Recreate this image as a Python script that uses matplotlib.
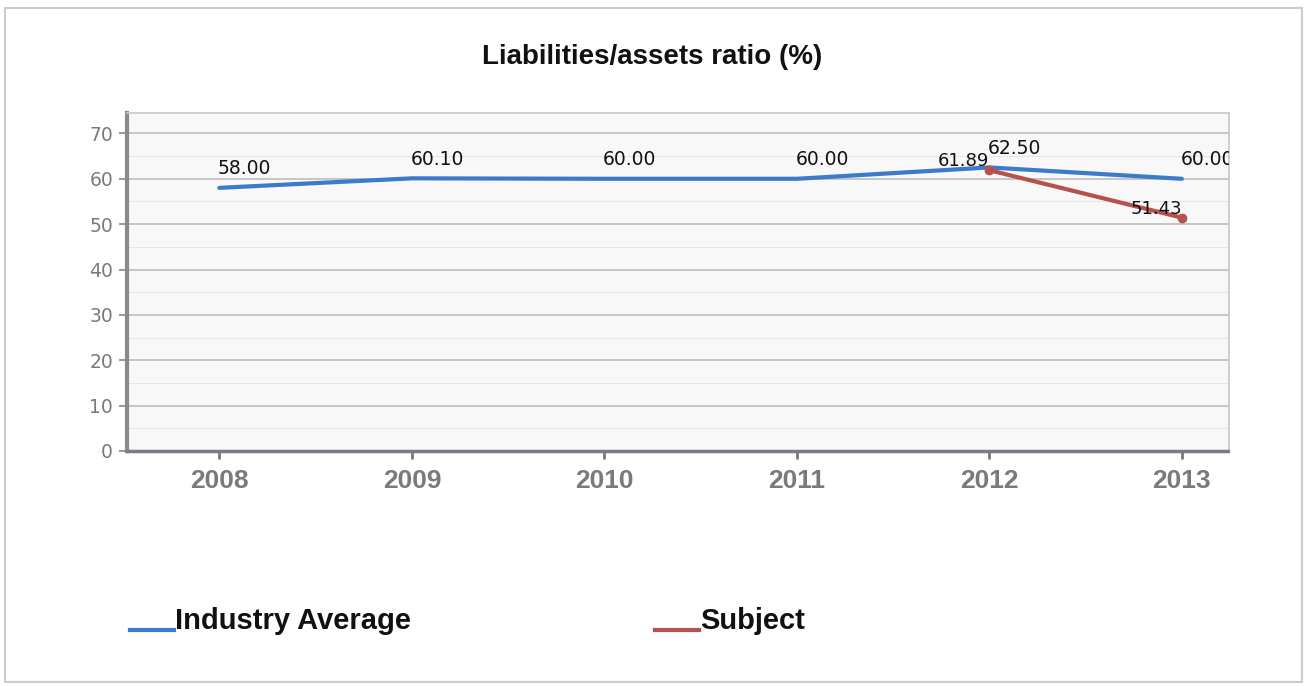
import numpy as np
import matplotlib.pyplot as plt
from matplotlib.lines import Line2D
from matplotlib.patches import Rectangle

# Series values
years = ['2008', '2009', '2010', '2011', '2012', '2013']
industry_avg = [58.00, 60.10, 60.00, 60.00, 62.50, 60.00]
subject_years = ['2012', '2013']
subject = [61.89, 51.43]

blue = '#3b7bcc'
red = '#b5514f'
gray_txt = '#7a7a7a'

plt.rcParams['font.family'] = ['Liberation Sans', 'DejaVu Sans']

fig = plt.figure(figsize=(13.04, 6.86), dpi=100)
ax = fig.add_axes([127 / 1304, 1 - 451 / 686, (1229 - 127) / 1304, (451 - 113) / 686])
ax.set_facecolor('#f8f8f8')

x = np.arange(len(years))
xs = np.array([years.index(y) for y in subject_years])

ax.plot(x, industry_avg, color=blue, lw=3, solid_capstyle='round', zorder=3)
ax.plot(xs, subject, color=red, lw=3, marker='o', ms=6, zorder=4)

# value labels
for xi, v in zip(x, industry_avg):
    ax.annotate(f'{v:.2f}', (xi, v), xytext=(-1, 7), textcoords='offset points',
                ha='left', va='bottom', fontsize=13.5, family='DejaVu Sans',
                color='#111111', clip_on=True, zorder=5)
for xi, v in zip(xs, subject):
    ax.annotate(f'{v:.2f}', (xi, v), xytext=(0, 0), textcoords='offset points',
                ha='right', va='bottom', fontsize=13, family='DejaVu Sans',
                color='#111111', clip_on=True, zorder=5)

ax.set_xlim(-0.48, 5.245)
ax.set_ylim(0, 74.5)
ax.set_xticks(x)
ax.set_xticklabels(years, fontsize=19, fontweight='bold', color=gray_txt)
ax.set_yticks(range(0, 71, 10))
ax.set_yticklabels([str(t) for t in range(0, 71, 10)], fontsize=13.5,
                   family='DejaVu Sans', color=gray_txt)
ax.set_yticks(range(5, 71, 10), minor=True)

ax.grid(axis='y', which='major', color='#bdbdbd', lw=1.2)
ax.grid(axis='y', which='minor', color='#e6e6e6', lw=0.8)
ax.set_axisbelow(True)

ax.tick_params(axis='y', which='major', length=6, width=1.2, color='#888888', pad=4)
ax.tick_params(axis='y', which='minor', length=0)
ax.tick_params(axis='x', length=6, width=2, color='#777777', pad=7)

ax.spines['left'].set_color('#8a8a8a')
ax.spines['left'].set_linewidth(3)
ax.spines['bottom'].set_color('#7a7a8a')
ax.spines['bottom'].set_linewidth(2.5)
ax.spines['bottom'].set_linestyle((0, (2, 1)))
for s in ('top', 'right'):
    ax.spines[s].set_color('#c8c8c8')
    ax.spines[s].set_linewidth(1.2)

fig.text(0.5, 1 - 57 / 686, 'Liabilities/assets ratio (%)', ha='center', va='center',
         fontsize=20, fontweight='bold', color='#111111')

# legend drawn along the bottom
ly = 1 - 630 / 686
fig.add_artist(Line2D([130 / 1304, 174 / 1304], [ly] * 2, color=blue, lw=3))
fig.text(175 / 1304, 1 - 629 / 686, 'Industry Average', ha='left', va='baseline',
         fontsize=21, fontweight='bold', color='#111111')
fig.add_artist(Line2D([655 / 1304, 699 / 1304], [ly] * 2, color=red, lw=3))
fig.text(700 / 1304, 1 - 629 / 686, 'Subject', ha='left', va='baseline',
         fontsize=21, fontweight='bold', color='#111111')

# outer frame
fig.add_artist(Rectangle((5 / 1304, 1 - 682 / 686), 1297 / 1304, 674 / 686,
                         transform=fig.transFigure, fill=False,
                         edgecolor='#cccccc', lw=1.5))

fig.savefig('out.png', dpi=100)
